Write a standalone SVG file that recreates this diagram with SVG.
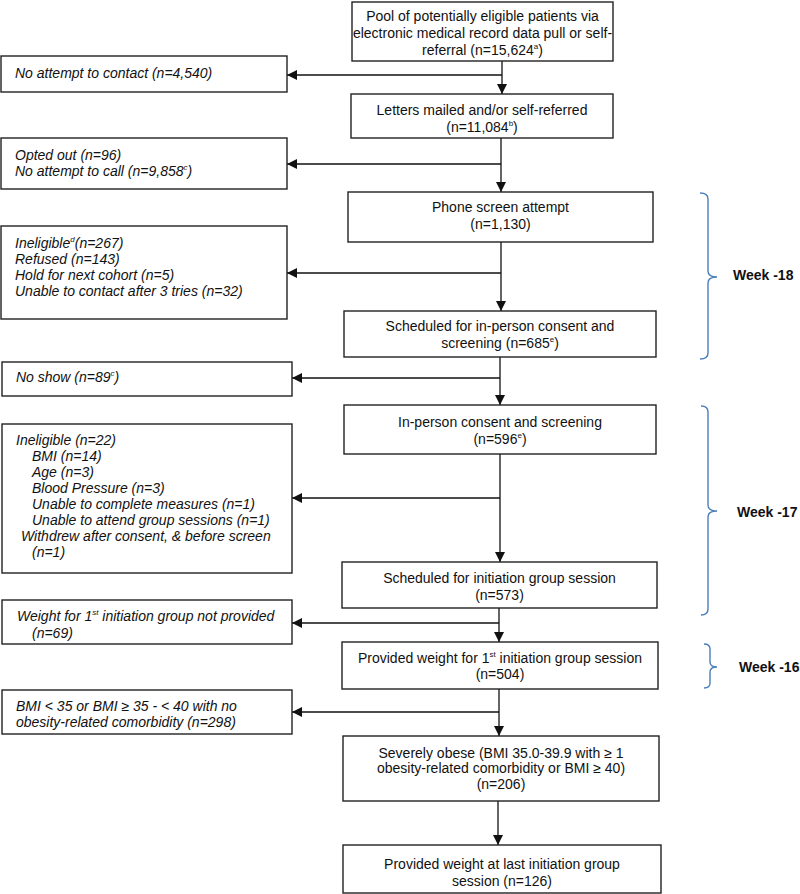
<svg xmlns="http://www.w3.org/2000/svg" width="800" height="894" viewBox="0 0 800 894">
<defs>
<marker id="ah" viewBox="0 0 10 10" refX="10" refY="5" markerWidth="10" markerHeight="10" markerUnits="userSpaceOnUse" orient="auto">
<path d="M0,0 L10,5 L0,10 Z" fill="#111"/>
</marker>
<style>
.box{fill:#fff;stroke:#222;stroke-width:1.4}
.t{font-family:"Liberation Sans",Arial,sans-serif;font-size:14px;fill:#111}
.c{text-anchor:middle}
.i{font-style:italic}
.w{font-weight:bold}
.sup{font-size:8px}
.ln{fill:none;stroke:#111;stroke-width:1.3}
.br{fill:none;stroke:#4A7EBB;stroke-width:1.4}
</style>
</defs>
<rect width="800" height="894" fill="#fff"/>

<g id="connectors">
<line class="ln" x1="502" y1="61" x2="502" y2="94" marker-end="url(#ah)"/>
<line class="ln" x1="502" y1="75" x2="287" y2="75" marker-end="url(#ah)"/>
<line class="ln" x1="501" y1="138" x2="501" y2="192" marker-end="url(#ah)"/>
<line class="ln" x1="501" y1="164" x2="287" y2="164" marker-end="url(#ah)"/>
<line class="ln" x1="501" y1="242" x2="501" y2="311" marker-end="url(#ah)"/>
<line class="ln" x1="501" y1="273" x2="287" y2="273" marker-end="url(#ah)"/>
<line class="ln" x1="500" y1="357" x2="500" y2="405" marker-end="url(#ah)"/>
<line class="ln" x1="500" y1="378" x2="292" y2="378" marker-end="url(#ah)"/>
<line class="ln" x1="500" y1="454" x2="500" y2="562" marker-end="url(#ah)"/>
<line class="ln" x1="500" y1="498" x2="292" y2="498" marker-end="url(#ah)"/>
<line class="ln" x1="499" y1="608" x2="499" y2="642" marker-end="url(#ah)"/>
<line class="ln" x1="499" y1="623" x2="292" y2="623" marker-end="url(#ah)"/>
<line class="ln" x1="499" y1="689" x2="499" y2="736" marker-end="url(#ah)"/>
<line class="ln" x1="499" y1="712" x2="292" y2="712" marker-end="url(#ah)"/>
<line class="ln" x1="498" y1="801" x2="498" y2="845" marker-end="url(#ah)"/>
</g>

<g id="pool">
<rect class="box" x="352" y="2" width="261" height="59"/>
<text class="t c" x="482.5" y="21">Pool of potentially eligible patients via</text>
<text class="t c" x="482.5" y="38">electronic medical record data pull or self-</text>
<text class="t c" x="482.5" y="55">referral (n=15,624<tspan class="sup" dy="-6">a</tspan><tspan dy="6">)</tspan></text>
</g>

<g id="letters">
<rect class="box" x="351" y="94" width="262" height="44"/>
<text class="t c" x="482" y="115">Letters mailed and/or self-referred</text>
<text class="t c" x="482" y="132">(n=11,084<tspan class="sup" dy="-6">b</tspan><tspan dy="6">)</tspan></text>
</g>

<g id="phone">
<rect class="box" x="348" y="192" width="305" height="50"/>
<text class="t c" x="500.5" y="212">Phone screen attempt</text>
<text class="t c" x="500.5" y="229">(n=1,130)</text>
</g>

<g id="sched1">
<rect class="box" x="344" y="311" width="312" height="46"/>
<text class="t c" x="500" y="331">Scheduled for in-person consent and</text>
<text class="t c" x="500" y="348">screening (n=685<tspan class="sup" dy="-6">e</tspan><tspan dy="6">)</tspan></text>
</g>

<g id="inperson">
<rect class="box" x="344" y="405" width="312" height="49"/>
<text class="t c" x="500" y="427">In-person consent and screening</text>
<text class="t c" x="500" y="444">(n=596<tspan class="sup" dy="-6">e</tspan><tspan dy="6">)</tspan></text>
</g>

<g id="sched2">
<rect class="box" x="342" y="562" width="315" height="46"/>
<text class="t c" x="499.5" y="583">Scheduled for initiation group session</text>
<text class="t c" x="499.5" y="600">(n=573)</text>
</g>

<g id="provided1">
<rect class="box" x="342" y="642" width="316" height="47"/>
<text class="t c" x="500" y="663">Provided weight for 1<tspan class="sup" dy="-6">st</tspan><tspan dy="6"> initiation group session</tspan></text>
<text class="t c" x="500" y="679">(n=504)</text>
</g>

<g id="severe">
<rect class="box" x="343" y="736" width="316" height="65"/>
<text class="t c" x="501" y="758">Severely obese (BMI 35.0-39.9 with ≥ 1</text>
<text class="t c" x="501" y="773">obesity-related comorbidity or BMI ≥ 40)</text>
<text class="t c" x="501" y="789">(n=206)</text>
</g>

<g id="provided2">
<rect class="box" x="343" y="845" width="318" height="48"/>
<text class="t c" x="502" y="869">Provided weight at last initiation group</text>
<text class="t c" x="502" y="886">session (n=126)</text>
</g>

<g id="ex1">
<rect class="box" x="1" y="56" width="286" height="36"/>
<text class="t i" x="15" y="78">No attempt to contact (n=4,540)</text>
</g>

<g id="ex2">
<rect class="box" x="1" y="138" width="286" height="51"/>
<text class="t i" x="15" y="160">Opted out (n=96)</text>
<text class="t i" x="15" y="176">No attempt to call (n=9,858<tspan class="sup" dy="-6">c</tspan><tspan dy="6">)</tspan></text>
</g>

<g id="ex3">
<rect class="box" x="1" y="226" width="286" height="93"/>
<text class="t i" x="15" y="248">Ineligible<tspan class="sup" dy="-6">d</tspan><tspan dy="6">(n=267)</tspan></text>
<text class="t i" x="15" y="264">Refused (n=143)</text>
<text class="t i" x="15" y="280">Hold for next cohort (n=5)</text>
<text class="t i" x="15" y="296">Unable to contact after 3 tries (n=32)</text>
</g>

<g id="ex4">
<rect class="box" x="2" y="362" width="290" height="34"/>
<text class="t i" x="16" y="382">No show (n=89<tspan class="sup" dy="-6">c</tspan><tspan dy="6">)</tspan></text>
</g>

<g id="ex5">
<rect class="box" x="2" y="424" width="290" height="149"/>
<text class="t i" x="16" y="445">Ineligible (n=22)</text>
<text class="t i" x="32" y="461">BMI (n=14)</text>
<text class="t i" x="32" y="477">Age (n=3)</text>
<text class="t i" x="32" y="493">Blood Pressure (n=3)</text>
<text class="t i" x="32" y="509">Unable to complete measures (n=1)</text>
<text class="t i" x="32" y="525">Unable to attend group sessions (n=1)</text>
<text class="t i" x="21" y="541">Withdrew after consent, &amp; before screen</text>
<text class="t i" x="32" y="557">(n=1)</text>
</g>

<g id="ex6">
<rect class="box" x="2" y="600" width="290" height="44"/>
<text class="t i" x="17" y="621">Weight for 1<tspan class="sup" dy="-6">st</tspan><tspan dy="6"> initiation group not provided</tspan></text>
<text class="t i" x="32" y="638">(n=69)</text>
</g>

<g id="ex7">
<rect class="box" x="2" y="690" width="290" height="44"/>
<text class="t i" x="16" y="711">BMI &lt; 35 or BMI ≥ 35 - &lt; 40 with no</text>
<text class="t i" x="16" y="727">obesity-related comorbidity (n=298)</text>
</g>

<g id="week18">
<path class="br" d="M700,193 Q708,193 708,199 L708,271 Q708,277 717,277 Q708,277 708,283 L708,353 Q708,359 700,359"/>
<text class="t w" x="733" y="280">Week -18</text>
</g>

<g id="week17">
<path class="br" d="M701,406 Q708,406 708,412 L708,505 Q708,511 717,511 Q708,511 708,517 L708,609 Q708,615 701,615"/>
<text class="t w" x="737" y="517">Week -17</text>
</g>

<g id="week16">
<path class="br" d="M704,644 Q710,644 710,649 L710,662 Q710,667 717,667 Q710,667 710,672 L710,683 Q710,688 704,688"/>
<text class="t w" x="739" y="672">Week -16</text>
</g>
</svg>
